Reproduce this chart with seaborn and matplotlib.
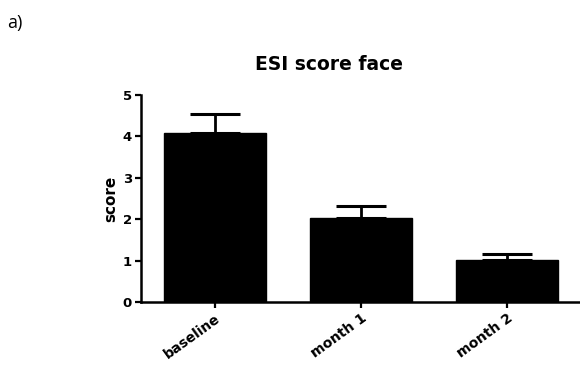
import numpy as np
import pandas as pd
import matplotlib
matplotlib.use("Agg")
import matplotlib.pyplot as plt
import seaborn as sns

# données
categories = ["baseline", "month 1", "month 2"]
scores = [4.07, 2.02, 1.01]
erreurs = [0.48, 0.31, 0.14]

df = pd.DataFrame({"temps": categories, "score": scores})

sns.set_style("ticks")
plt.rcParams['font.family'] = ['DejaVu Sans']
# tout en noir (seaborn met un gris foncé par défaut)
for cle in ["text.color", "axes.labelcolor", "xtick.color", "ytick.color", "axes.edgecolor"]:
    plt.rcParams[cle] = "black"

fig = plt.figure(figsize=(5.8, 3.74), dpi=100)
ax = fig.add_axes([0.243, 0.1925, 0.757, 0.5535])

sns.barplot(data=df, x="temps", y="score", color="black", edgecolor="black",
            width=0.694, errorbar=None, saturation=1, ax=ax)
# barres d'erreur vers le haut seulement (style GraphPad)
ax.errorbar(np.arange(len(categories)), scores,
            yerr=[np.zeros(len(erreurs)), erreurs],
            fmt="none", ecolor="black", elinewidth=2, capsize=18, capthick=2.2)

ax.set_xlim(-0.507, 2.5)
ax.set_ylim(0, 5)
ax.set_yticks([0, 1, 2, 3, 4, 5])
ax.set_xlabel("")
ax.set_ylabel("score", fontsize=11, fontweight="bold", labelpad=3)
ax.tick_params(axis="both", width=1.6, length=4.5, color="black", pad=2)
ax.tick_params(axis="y", labelsize=9.5)
ax.tick_params(axis="x", labelsize=10)
for lab in ax.get_yticklabels():
    lab.set_fontweight("bold")
for lab in ax.get_xticklabels():
    lab.set_fontweight("bold")
    lab.set_rotation(36)
    lab.set_ha("right")
    lab.set_rotation_mode("anchor")
for s in ["left", "bottom"]:
    ax.spines[s].set_linewidth(1.8)
    ax.spines[s].set_color("black")
sns.despine(ax=ax)

# titre placé comme sur l'original (un peu à gauche du centre des axes)
fig.text(0.5666, 0.813, "ESI score face", fontsize=13.5, fontweight="bold",
         ha="center", va="baseline")
fig.text(0.013, 0.925, "a)", fontsize=13, family=["Open Sans", "DejaVu Sans"])

fig.savefig("out.png", dpi=100)
